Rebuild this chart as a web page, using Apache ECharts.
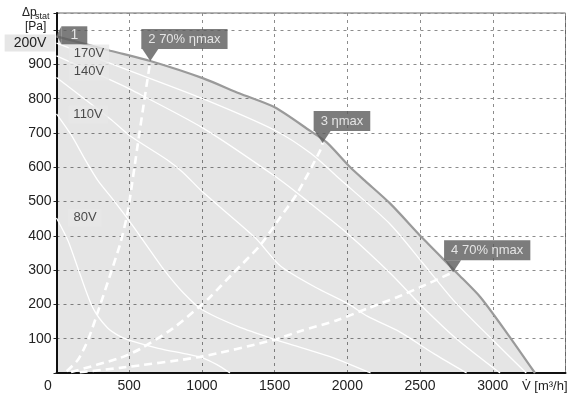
<!DOCTYPE html>
<html>
<head>
<meta charset="utf-8">
<script src="https://cdn.jsdelivr.net/npm/echarts@6/dist/echarts.min.js"></script>
<style>
html, body { margin: 0; padding: 0; background: #fff; }
#main { width: 571px; height: 397px; }
</style>
</head>
<body>
<div id="main"></div>
<script>
// tick labels that are printed on the axes
var xShown = [0, 500, 1000, 1500, 2000, 2500, 3000];
var yShown = [100, 200, 300, 400, 500, 600, 700, 800, 900];

// fan curves [flow m3/h, pressure Pa]
var curve200 = [[0,982],[370,940],[645,910],[1005,860],[1260,815],[1500,775],[1745,706],[1860,672],[2020,600],[2120,561],[2295,494],[2520,392],[2755,291],[2915,221],[3100,115],[3290,0]];
var curve170 = [[0,962],[370,903],[505,881],[1005,800],[1500,708],[1750,640],[1950,565],[2290,436],[2520,320],[2730,212],[3000,96],[3230,0]];
var curve140 = [[0,925],[370,855],[505,828],[1005,715],[1515,570],[1720,503],[2000,407],[2295,291],[2520,192],[2750,100],[3050,0]];
var curve110 = [[0,862],[370,741],[505,692],[760,622],[870,585],[1000,530],[1365,395],[1540,312],[1780,250],[2000,203],[2140,165],[2360,120],[2600,55],[2820,0]];
var curve95 = [[0,756],[100,695],[200,620],[285,561],[400,500],[520,432],[640,360],[750,295],[870,235],[1000,185],[1250,135],[1500,98],[1700,72],[1900,45],[2160,0]];
var curve80 = [[0,452],[80,385],[160,290],[250,190],[350,132],[440,106],[520,93],[700,72],[900,55],[1000,45],[1100,25],[1193,0]];

// system lines (dashed)
var eff2 = [[70,5],[150,40],[220,100],[288,183],[380,300],[440,380],[483,455],[505,510],[560,670],[600,785],[645,910]];
var eff3 = [[100,3],[437,44],[574,70],[800,130],[987,195],[1055,221],[1214,291],[1399,372],[1537,453],[1654,523],[1812,648],[1830,671]];
var eff4 = [[160,2],[437,15],[987,47],[1489,96],[1674,122],[1929,154],[2150,190],[2341,221],[2500,250],[2727,294]];

// callouts
var pointNames = ['2 70% ηmax', '3 ηmax', '4 70% ηmax'];
var pointFlow = [645, 1830, 2727];
var pointPress = [910, 671, 294];
var startName = '1';
var startPress = 985;

// voltage labels
var voltNames = ['170V', '140V', '110V', '80V'];
var voltFlow = [223, 223, 217, 196];
var voltPress = [932, 879, 754, 453];

var FONT = '"Liberation Sans", Arial, sans-serif';

function solid(name, data) {
    return {
        name: name, type: 'line', data: data, symbol: 'none', z: 3,
        smooth: 0.25, silent: true,
        lineStyle: { color: '#ffffff', width: 1.3 }
    };
}
function dashed(name, data) {
    return {
        name: name, type: 'line', data: data, symbol: 'none', z: 4,
        smooth: 0.25, silent: true,
        lineStyle: { color: '#ffffff', width: 2.6, type: [8, 5] }
    };
}

var callouts = [];
for (var i = 0; i < pointNames.length; i++) {
    callouts.push([pointFlow[i], pointPress[i], pointNames[i]]);
}
var volts = [];
for (var j = 0; j < voltNames.length; j++) {
    volts.push([voltFlow[j], voltPress[j], voltNames[j]]);
}

var chart = echarts.init(document.getElementById('main'));
chart.setOption({
    animation: false,
    backgroundColor: '#ffffff',
    grid: { left: 56.5, right: 5.5, top: 13, bottom: 24, show: true, borderColor: '#666', borderWidth: 1 },
    xAxis: {
        type: 'value', min: 0, max: 3500, interval: 500,
        axisLine: { show: true, lineStyle: { color: '#111', width: 2 } },
        axisTick: { show: false },
        splitLine: { show: true, lineStyle: { color: '#8c8c8c', width: 1, type: [3, 4] } },
        axisLabel: {
            color: '#222', fontSize: 14, fontFamily: FONT, margin: 6,
            formatter: function (v) {
                if (xShown.indexOf(v) < 0) return '';
                return v === 0 ? '{z|0}' : String(v);
            },
            rich: { z: { fontSize: 14, color: '#222', fontFamily: FONT, padding: [0, 17, 0, 0] } }
        }
    },
    yAxis: {
        type: 'value', min: 0, max: 1050, interval: 100,
        axisLine: { show: true, lineStyle: { color: '#111', width: 2 } },
        axisTick: { show: true, length: 3, lineStyle: { color: '#222' } },
        splitLine: { show: true, lineStyle: { color: '#8c8c8c', width: 1, type: [3, 4] } },
        axisLabel: {
            color: '#222', fontSize: 14, fontFamily: FONT, margin: 5,
            formatter: function (v) { return yShown.indexOf(v) < 0 ? '' : String(v); }
        }
    },
    graphic: [
        { type: 'text', x: 30, y: 43, z: 10, style: { text: '200V', fill: '#222', font: '14px ' + FONT, align: 'center', verticalAlign: 'middle', backgroundColor: '#e6e6e6', padding: [2, 9, 1, 9] } },
        { type: 'text', x: 22, y: 7, style: { text: 'Δp', fill: '#222', font: '12px ' + FONT } },
        { type: 'text', x: 35, y: 12, style: { text: 'stat', fill: '#222', font: '9px ' + FONT } },
        { type: 'text', x: 25, y: 21, style: { text: '[Pa]', fill: '#222', font: '12px ' + FONT } },
        { type: 'text', x: 522, y: 380, style: { text: 'V̇ [m³/h]', fill: '#222', font: '13px ' + FONT } }
    ],
    series: [
        {
            name: '200V', type: 'line', data: curve200, symbol: 'none', z: 2,
            smooth: 0.25, silent: true,
            lineStyle: { color: '#9a9a9a', width: 2.2 },
            areaStyle: { color: 'rgba(0,0,0,0.145)' }
        },
        solid('170V', curve170),
        solid('140V', curve140),
        solid('110V', curve110),
        solid('95V', curve95),
        solid('80V', curve80),
        dashed('eff2', eff2),
        dashed('eff3', eff3),
        dashed('eff4', eff4),
        {
            name: 'callouts', type: 'scatter', data: callouts, z: 6, clip: false,
            symbol: 'path://M0,0L16,0L8,12Z', symbolSize: [16, 12], symbolOffset: [0, -6],
            itemStyle: { color: '#5b5b5b' },
            label: {
                show: true, position: 'top', distance: 0, align: 'left', offset: [-9, 0],
                formatter: function (p) { return p.value[2]; },
                color: '#fff', fontSize: 13, fontFamily: FONT, lineHeight: 14,
                backgroundColor: '#5b5b5b', padding: [3, 7, 3, 7]
            }
        },
        {
            name: 'start', type: 'scatter', data: [[0, startPress, startName]], z: 6, clip: false,
            symbol: 'path://M0,6L5,0L5,12Z', symbolSize: [5, 18], symbolOffset: [2.5, 0],
            itemStyle: { color: '#5b5b5b' },
            label: {
                show: true, position: 'right', distance: 0,
                formatter: function (p) { return p.value[2]; },
                color: '#fff', fontSize: 14, fontFamily: FONT, lineHeight: 14,
                backgroundColor: '#5b5b5b', padding: [2, 9, 2, 9]
            }
        },
        {
            name: 'volts', type: 'scatter', data: volts, z: 5, clip: false,
            symbol: 'circle', symbolSize: 1, itemStyle: { color: 'rgba(0,0,0,0)' },
            label: {
                show: true, position: 'inside',
                formatter: function (p) { return p.value[2]; },
                color: '#222', fontSize: 13, fontFamily: FONT, lineHeight: 14,
                backgroundColor: '#e7e7e7', padding: [2, 5, 2, 5]
            }
        }
    ]
});
</script>
</body>
</html>
